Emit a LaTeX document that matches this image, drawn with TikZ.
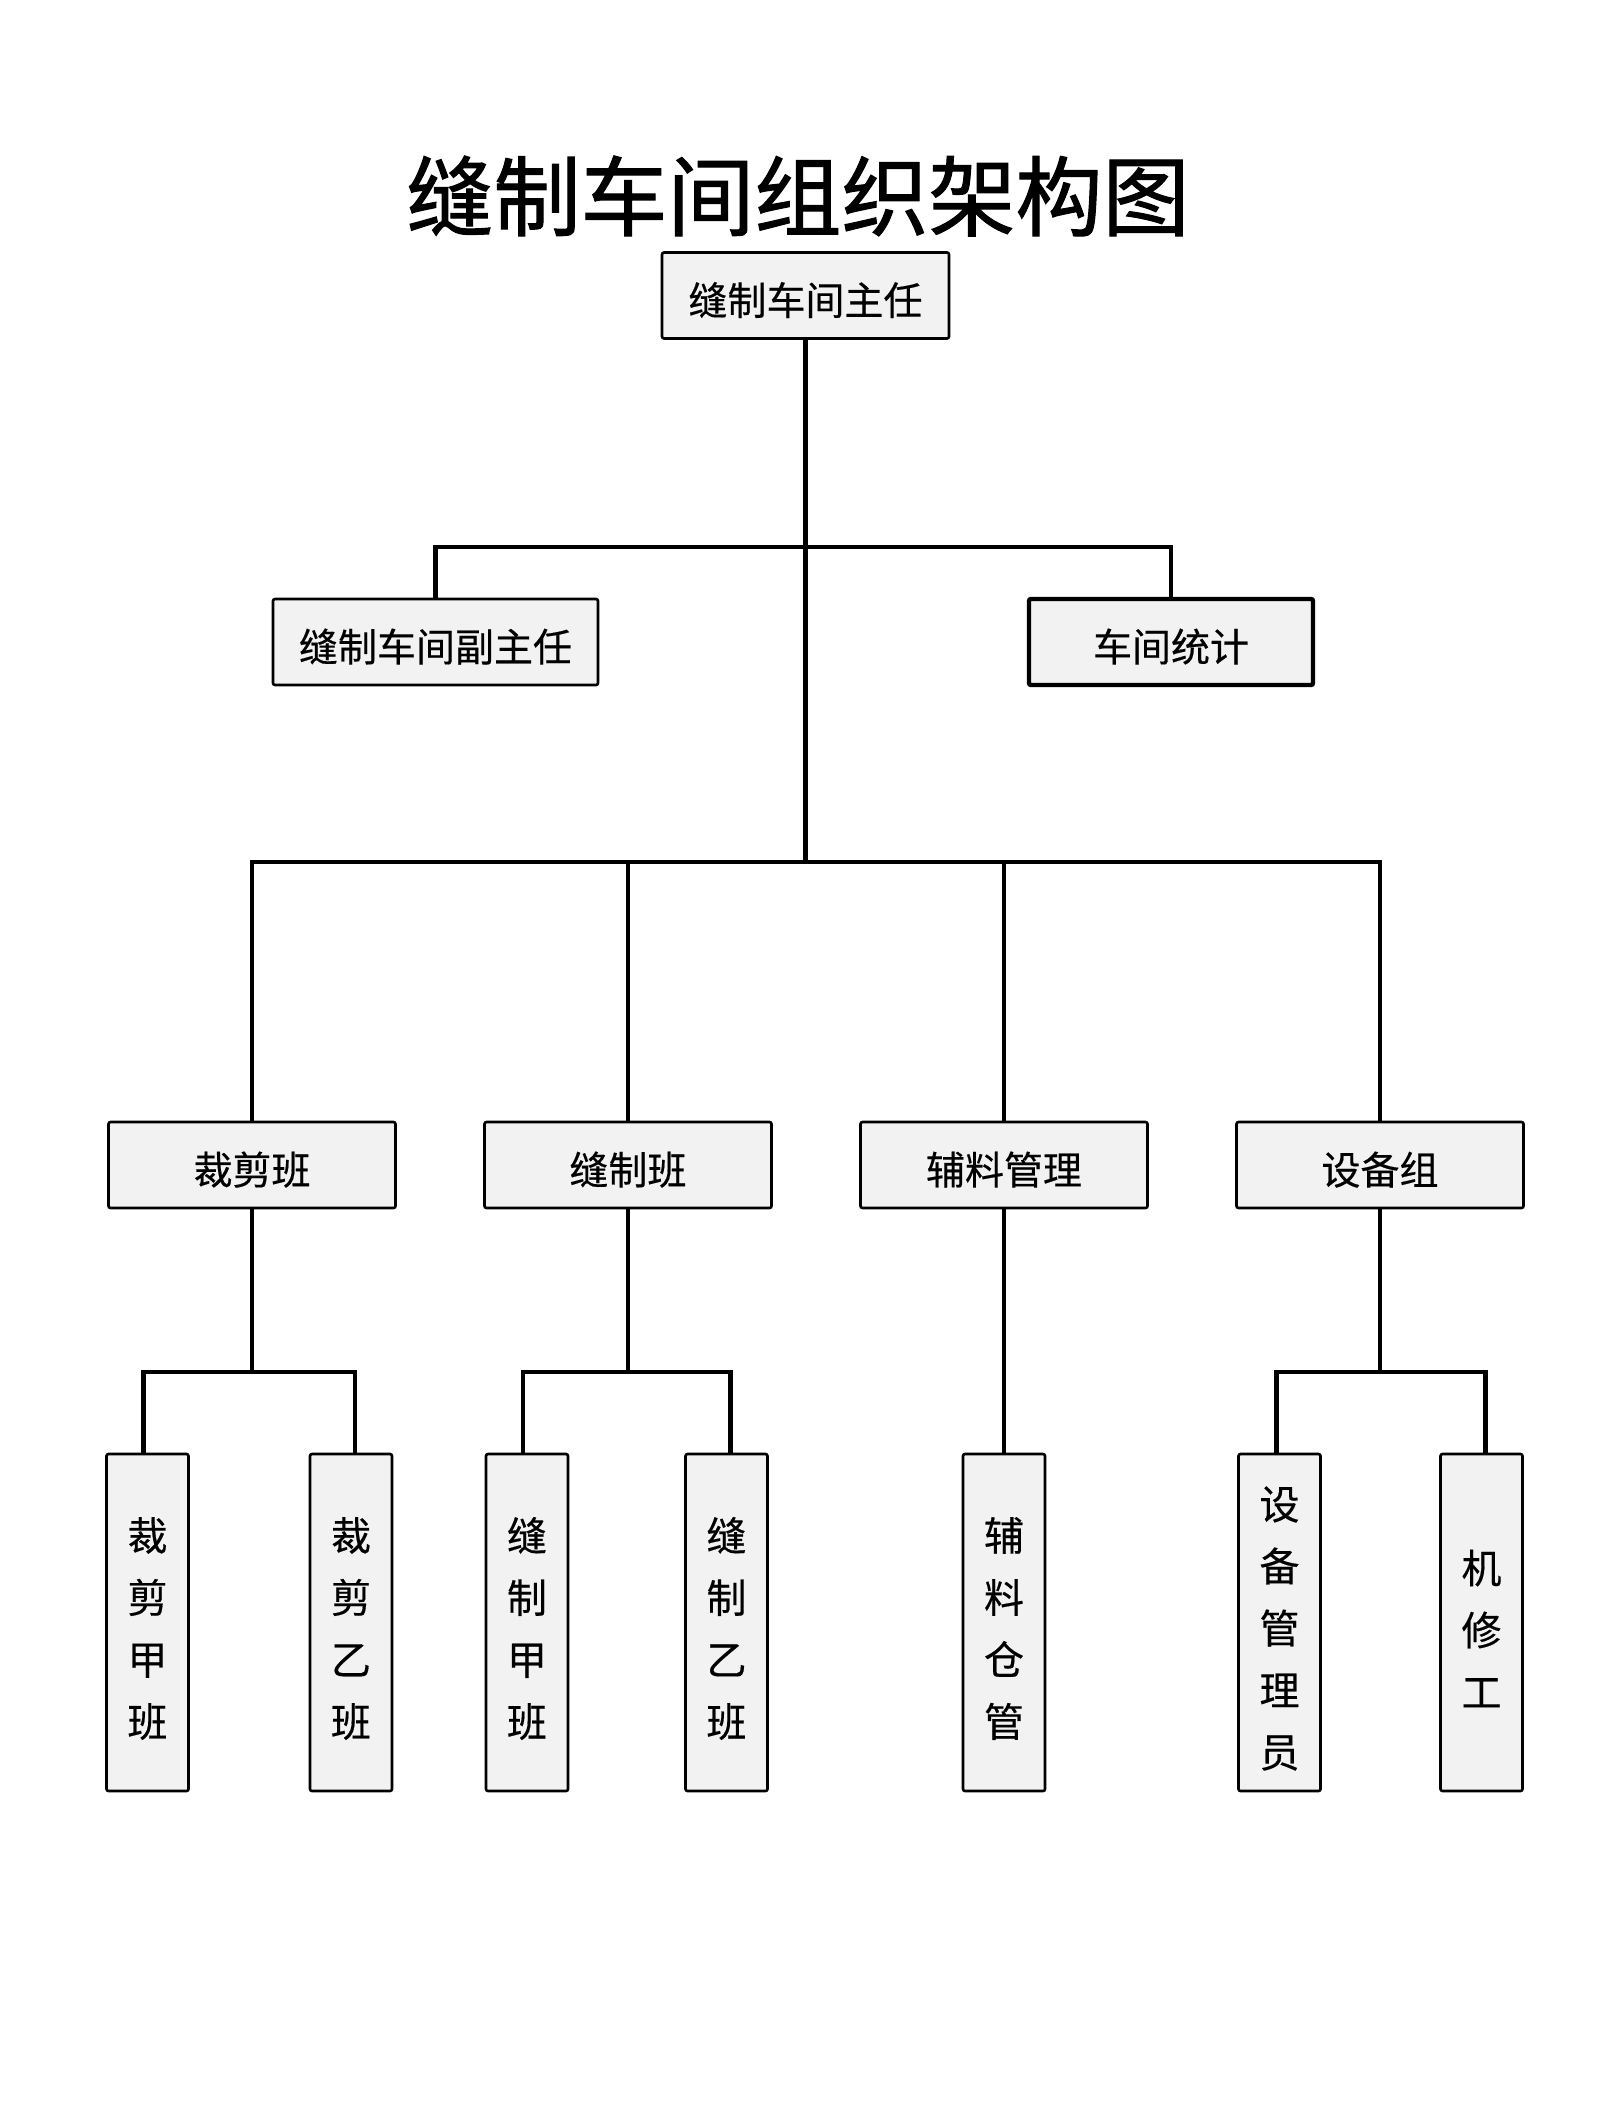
\documentclass[tikz,border=0pt]{standalone}
\usepackage{fontspec}
\setmainfont{Noto Sans CJK SC}
\newfontfamily\titlefont[FakeBold=1.2]{Noto Sans CJK SC}
\newfontfamily\boxfont[FakeBold=0.4]{Noto Sans CJK SC}
\definecolor{boxgray}{HTML}{F2F2F2}
\begin{document}
\begin{tikzpicture}[x=0.5pt,y=-0.5pt,
  base/.style={draw=black, line width=1.3pt, fill=boxgray, rounded corners=1pt,
    inner sep=0pt},
  box/.style={base, minimum width=143.5pt, minimum height=43pt,
    text height=19.5pt, text depth=0pt,
    font=\boxfont\fontsize{19.5}{23}\selectfont},
  leaf/.style={base, minimum width=41pt, minimum height=168.5pt},
  leaftext/.style={align=center, yshift=-3pt,
    font=\boxfont\fontsize{20}{31}\selectfont},
  conn/.style={line width=2.4pt}]
\useasboundingbox (0,0) rectangle (1620,2112);
\node (title) at (798,196) {\titlefont\fontsize{43.5}{50}\selectfont 缝制车间组织架构图};
\node[box] (top) at (805.5,295.5) {缝制车间主任};
\node[box, minimum width=162.5pt] (dep) at (435.5,642) {缝制车间副主任};
\node[box, minimum width=142pt, line width=2.2pt] (stat) at (1171,642) {车间统计};
\node[box] (cut) at (252,1165) {裁剪班};
\node[box] (sew) at (628,1165) {缝制班};
\node[box] (aux) at (1004,1165) {辅料管理};
\node[box] (equip) at (1380,1165) {设备组};
\node[leaf, label={[leaftext]center:裁\\剪\\甲\\班}] (c1) at (147.5,1622.5) {};
\node[leaf, label={[leaftext]center:裁\\剪\\乙\\班}] (c2) at (351,1622.5) {};
\node[leaf, label={[leaftext]center:缝\\制\\甲\\班}] (s1) at (527,1622.5) {};
\node[leaf, label={[leaftext]center:缝\\制\\乙\\班}] (s2) at (726.5,1622.5) {};
\node[leaf, label={[leaftext]center:辅\\料\\仓\\管}] (a1) at (1004,1622.5) {};
\node[leaf, label={[leaftext]center:设\\备\\管\\理\\员}] (e1) at (1279.5,1622.5) {};
\node[leaf, label={[leaftext]center:机\\修\\工}] (e2) at (1481.5,1622.5) {};
\coordinate (j2) at (805.5,547);
\coordinate (j3) at (805.5,862);
\coordinate (cb) at (252,1372);
\coordinate (sb) at (628,1372);
\coordinate (eb) at (1380,1372);
\draw[conn] (top.south) -- (j3);
\draw[conn] (dep.north) |- (j2) -| (stat.north);
\draw[conn] (cut.north) |- (j3) -| (equip.north);
\draw[conn] (sew.north) -- (sew.north |- j3);
\draw[conn] (aux.north) -- (aux.north |- j3);
\draw[conn] (cut.south) -- (cb);
\draw[conn] ([xshift=-2pt]c1.north) |- (cb) -| ([xshift=2pt]c2.north);
\draw[conn] (sew.south) -- (sb);
\draw[conn] ([xshift=-2pt]s1.north) |- (sb) -| ([xshift=2pt]s2.north);
\draw[conn] (aux.south) -- (a1.north);
\draw[conn] (equip.south) -- (eb);
\draw[conn] ([xshift=-1.5pt]e1.north) |- (eb) -| ([xshift=2pt]e2.north);
\end{tikzpicture}
\end{document}
